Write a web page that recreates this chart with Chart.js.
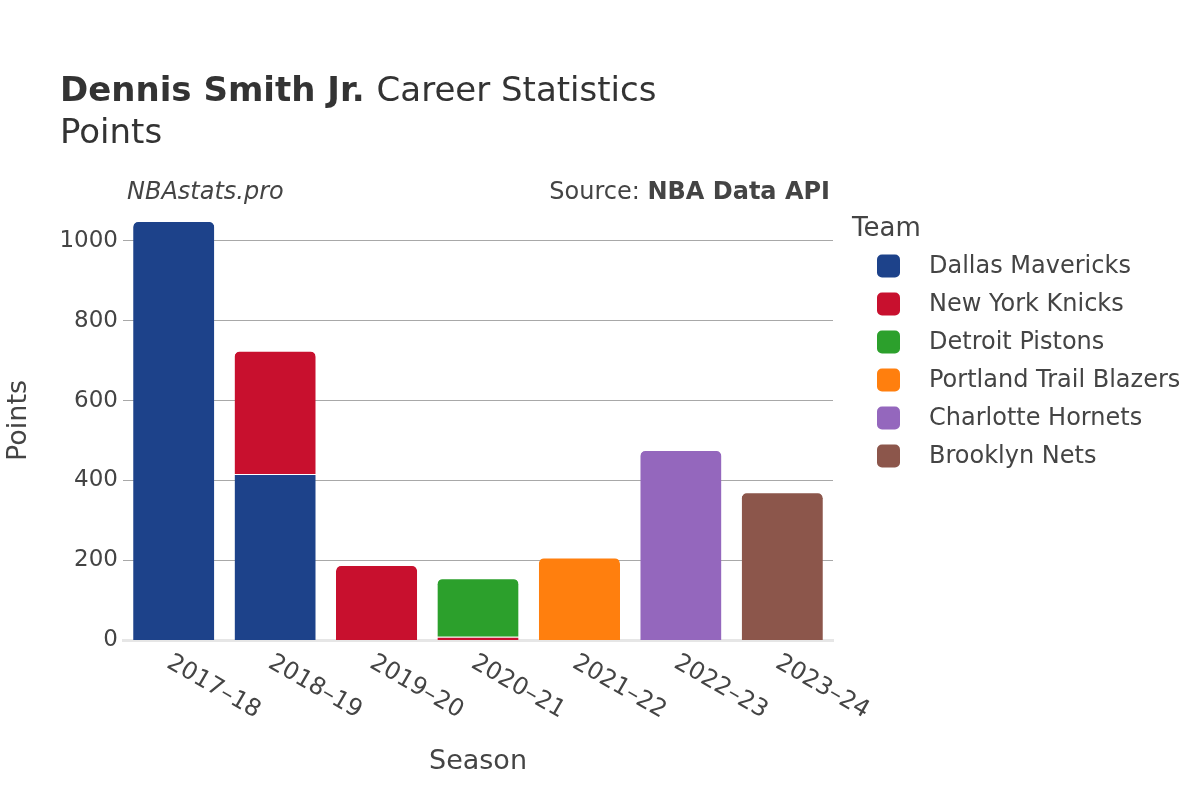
<!DOCTYPE html>
<html>
<head>
<meta charset="utf-8">
<script src="https://cdn.jsdelivr.net/npm/chart.js@4/dist/chart.umd.min.js"></script>
<style>
  html, body { margin: 0; padding: 0; background: #fff; }
  #wrap { width: 1200px; height: 800px; position: relative; }
</style>
</head>
<body>
<div id="wrap"><canvas id="pontosChart" width="1200" height="800"></canvas></div>
<script>
// Dados
const temporadas = ['2017–18', '2018–19', '2019–20', '2020–21', '2021–22', '2022–23', '2023–24'];
const times = ['Dallas Mavericks', 'New York Knicks', 'Detroit Pistons', 'Portland Trail Blazers', 'Charlotte Hornets', 'Brooklyn Nets'];
const cores = ['#1d428a', '#c8102e', '#2ca02c', '#ff7f0e', '#9467bd', '#8c564b'];

const pontosDallas    = [1050, 416, null, null, null, null, null];
const pontosKnicks    = [null, 309, 188, 8, null, null, null];
const pontosPistons   = [null, null, null, 147, null, null, null];
const pontosPortland  = [null, null, null, null, 207, null, null];
const pontosCharlotte = [null, null, null, null, null, 476, null];
const pontosBrooklyn  = [null, null, null, null, null, null, 370];
const valores = [pontosDallas, pontosKnicks, pontosPistons, pontosPortland, pontosCharlotte, pontosBrooklyn];

const ticksY = [0, 200, 400, 600, 800, 1000];

const FONTE = '"DejaVu Sans", sans-serif';
const COR_TEXTO = '#444';

// Textos, rótulos do eixo x e legenda desenhados à mão (estilo plotly)
const textosPlugin = {
    id: 'textos',
    afterDraw(chart) {
        const ctx = chart.ctx;
        const area = chart.chartArea;
        const escalaX = chart.scales.x;
        ctx.save();
        ctx.fillStyle = '#333';
        ctx.textBaseline = 'alphabetic';
        ctx.textAlign = 'left';

        // Título
        ctx.font = 'bold 34px ' + FONTE;
        const parte1 = 'Dennis Smith Jr.';
        ctx.fillText(parte1, 60, 101);
        const w1 = ctx.measureText(parte1 + ' ').width;
        ctx.font = '34px ' + FONTE;
        ctx.fillText('Career Statistics', 60 + w1, 101);
        ctx.fillText('Points', 60, 143);

        // Marca e fonte
        ctx.fillStyle = COR_TEXTO;
        ctx.font = 'italic 24px ' + FONTE;
        ctx.fillText('NBAstats.pro', 127, 199);
        ctx.textAlign = 'right';
        ctx.font = 'bold 24px ' + FONTE;
        ctx.fillText('NBA Data API', 830, 199);
        const wb = ctx.measureText('NBA Data API').width;
        ctx.font = '24px ' + FONTE;
        ctx.fillText('Source: ', 830 - wb, 199);

        // Rótulos do eixo x (girados 30°)
        ctx.font = '24px ' + FONTE;
        ctx.textAlign = 'left';
        ctx.textBaseline = 'middle';
        temporadas.forEach((t, i) => {
            const x = escalaX.getPixelForValue(i);
            ctx.save();
            ctx.translate(x - 5, area.bottom + 21);
            ctx.rotate(Math.PI / 6);
            ctx.fillText(t, 0, 0);
            ctx.restore();
        });

        // Títulos dos eixos
        ctx.textAlign = 'center';
        ctx.textBaseline = 'alphabetic';
        ctx.font = '27px ' + FONTE;
        ctx.fillText('Season', (area.left + area.right) / 2, 769);
        ctx.save();
        ctx.translate(26, (area.top + area.bottom) / 2);
        ctx.rotate(-Math.PI / 2);
        ctx.fillText('Points', 0, 0);
        ctx.restore();

        // Legenda
        ctx.textAlign = 'left';
        ctx.font = '26px ' + FONTE;
        ctx.fillText('Team', 852, 236);
        ctx.font = '24px ' + FONTE;
        ctx.textBaseline = 'middle';
        chart.data.datasets.forEach((ds, i) => {
            const cy = 266 + i * 38;
            ctx.fillStyle = ds.backgroundColor;
            ctx.beginPath();
            ctx.roundRect(877, cy - 11.5, 23, 23, 5);
            ctx.fill();
            ctx.fillStyle = COR_TEXTO;
            ctx.fillText(ds.label, 929, cy + 1);
        });
        ctx.restore();
    }
};

const ctx = document.getElementById('pontosChart').getContext('2d');
const meuGrafico = new Chart(ctx, {
    type: 'bar',
    data: {
        labels: temporadas,
        datasets: times.map((time, i) => ({
            label: time,
            data: valores[i],
            backgroundColor: cores[i],
            borderColor: 'rgba(255,255,255,0.6)',
            borderWidth: { top: 1, left: 0, right: 0, bottom: 0 },
            borderRadius: 6,
            barPercentage: 0.8,
            categoryPercentage: 1
        }))
    },
    options: {
        responsive: false,
        animation: false,
        layout: { padding: { top: 201, bottom: 160, right: 367, left: 0 } },
        plugins: {
            legend: { display: false },
            title: { display: false },
            tooltip: { enabled: false }
        },
        scales: {
            x: {
                stacked: true,
                grid: { display: false },
                // linha do zero, mais grossa e clara
                border: { display: true, color: '#e6e6e6', width: 3 },
                ticks: { display: false },
                afterFit: (escala) => { escala.height = 0; }
            },
            y: {
                stacked: true,
                min: 0,
                max: 1100,
                afterBuildTicks: (escala) => {
                    escala.ticks = ticksY.map(v => ({ value: v }));
                },
                afterFit: (escala) => { escala.width = 123; },
                border: { display: false },
                grid: {
                    drawTicks: false,
                    color: (c) => c.tick && c.tick.value === 0 ? 'rgba(0,0,0,0)' : '#a8a8a8',
                    lineWidth: (c) => c.tick && c.tick.value === 0 ? 0 : 1
                },
                ticks: {
                    padding: 5,
                    color: COR_TEXTO,
                    font: { family: FONTE, size: 23 },
                    callback: (v) => String(v)
                }
            }
        }
    },
    plugins: [textosPlugin]
});
</script>
</body>
</html>
